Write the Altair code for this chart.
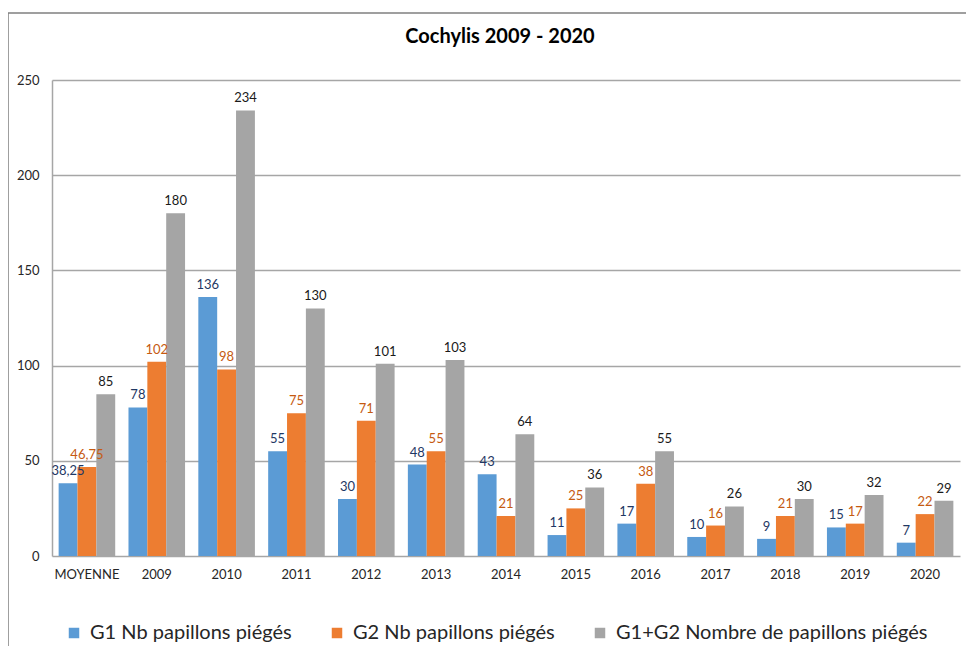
import altair as alt
import pandas as pd

FONT = "Lato"

categories = ["MOYENNE", "2009", "2010", "2011", "2012", "2013", "2014",
              "2015", "2016", "2017", "2018", "2019", "2020"]
g1 = [38.25, 78, 136, 55, 30, 48, 43, 11, 17, 10, 9, 15, 7]
g2 = [46.75, 102, 98, 75, 71, 55, 21, 25, 38, 16, 21, 17, 22]
tot = [85, 180, 234, 130, 101, 103, 64, 36, 55, 26, 30, 32, 29]
series_names = ["G1 Nb papillons piégés", "G2 Nb papillons piégés",
                "G1+G2 Nombre de papillons piégés"]
y_ticks = [0, 50, 100, 150, 200, 250]

rows = []
for s, vals in zip(series_names, [g1, g2, tot]):
    for c, v in zip(categories, vals):
        rows.append({"cat": c, "series": s, "value": v,
                     "label": f"{v:g}".replace(".", ",")})
df = pd.DataFrame(rows)

bar_colors = ["#5B9BD5", "#ED7D31", "#A5A5A5"]
label_colors = ["#1F3864", "#C55A11", "#1A1A1A"]

x = alt.X("cat:N", sort=categories,
          scale=alt.Scale(paddingInner=0.19, paddingOuter=0.095),
          axis=alt.Axis(title=None, labelAngle=0, ticks=False, domain=False,
                        labelFontSize=13, labelColor="#262626", labelPadding=12,
                        labelFont=FONT))
xo = alt.XOffset("series:N", sort=series_names,
                 scale=alt.Scale(paddingInner=0, paddingOuter=0))
y = alt.Y("value:Q", scale=alt.Scale(domain=[0, 250], nice=False),
          axis=alt.Axis(values=y_ticks, title=None, ticks=False, domain=True,
                        domainColor="#A6A6A6", domainWidth=1.5,
                        grid=True, gridColor="#A6A6A6", gridWidth=1.5,
                        labelPadding=13, labelFontSize=13, labelColor="#262626",
                        labelFont=FONT))

base = alt.Chart(df)

bars = base.mark_bar().encode(
    x=x, xOffset=xo, y=y,
    color=alt.Color("series:N", sort=series_names,
                    scale=alt.Scale(domain=series_names, range=bar_colors),
                    legend=alt.Legend(title=None, orient="none", legendX=12, legendY=543,
                                      direction="horizontal", symbolType="square",
                                      symbolSize=110, symbolStrokeWidth=0,
                                      labelFontSize=20, labelFont=FONT,
                                      labelColor="#262626", columnPadding=35,
                                      labelOffset=6, labelLimit=0)),
)

labels = base.mark_text(font=FONT, fontSize=13, baseline="middle", dy=-12).encode(
    x=x, xOffset=xo, y=y, text="label:N",
    color=alt.Color("series:N", sort=series_names,
                    scale=alt.Scale(domain=series_names, range=label_colors),
                    legend=None),
)

frame_data = alt.Data(values=[{"a": 1}])
frame_v = alt.Chart(frame_data).mark_rule(color="#7F7F7F", strokeWidth=1.5).encode(
    x=alt.value(-44), y=alt.value(-67), y2=alt.value(620))
frame_h = alt.Chart(frame_data).mark_rule(color="#7F7F7F", strokeWidth=1.5).encode(
    x=alt.value(-44), x2=alt.value(930), y=alt.value(-67))

chart = alt.layer(bars, labels, frame_v, frame_h).resolve_scale(
    color="independent"
).properties(
    width=908, height=476,
    autosize=alt.AutoSizeParams(type="none"),
    padding={"left": 44, "top": 72, "right": 6, "bottom": 90},
    title=alt.TitleParams("Cochylis 2009 - 2020", font=FONT, fontSize=20,
                          fontWeight="bold", color="#000000", anchor="middle",
                          offset=-35, dx=-6),
).configure_view(stroke=None)

chart.save("out.html", embed_options={"renderer": "svg", "actions": False})
